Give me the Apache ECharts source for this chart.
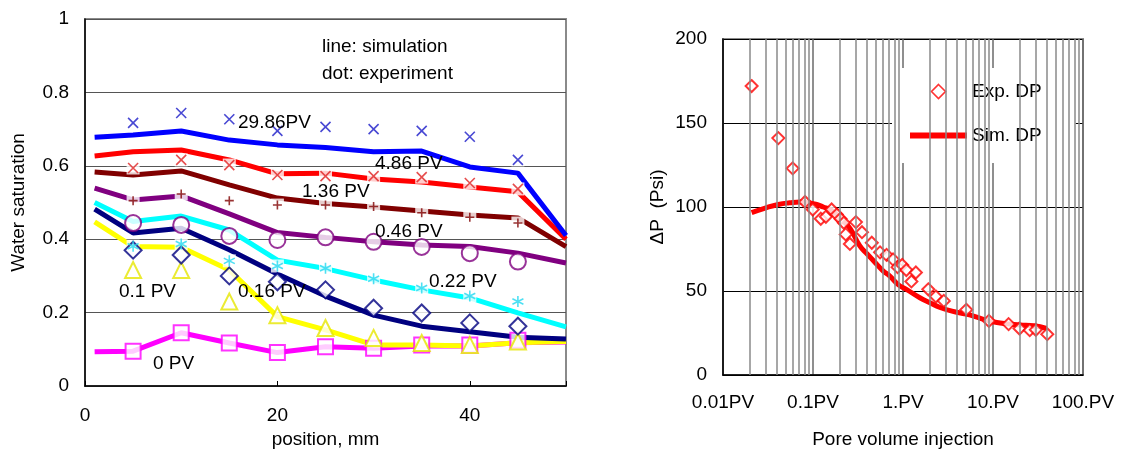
<!DOCTYPE html>
<html>
<head>
<meta charset="utf-8">
<script src="https://cdn.jsdelivr.net/npm/echarts@6.0.0/dist/echarts.min.js"></script>
<style>
  html, body { margin: 0; padding: 0; background: #fff; }
  #chart { width: 1122px; height: 454px; }
</style>
</head>
<body>
<div id="chart"></div>
<script>
// ---- left panel: water saturation profiles (line = simulation, dot = experiment) ----
const simPos = [1, 5, 10, 15, 20, 25, 30, 35, 40, 45, 50]
const expPos = [5, 10, 15, 20, 25, 30, 35, 40, 45]
const posTicks = [0, 20, 40]

const sim2986 = [0.678, 0.684, 0.695, 0.670, 0.657, 0.650, 0.638, 0.640, 0.597, 0.580, 0.410]
const exp2986 = [0.717, 0.744, 0.727, 0.695, 0.706, 0.700, 0.695, 0.679, 0.616]
const sim486 = [0.627, 0.638, 0.643, 0.616, 0.578, 0.580, 0.564, 0.556, 0.542, 0.529, 0.400]
const exp486 = [0.594, 0.616, 0.602, 0.575, 0.572, 0.572, 0.569, 0.553, 0.537]
const sim136 = [0.583, 0.575, 0.586, 0.548, 0.512, 0.497, 0.488, 0.477, 0.466, 0.458, 0.380]
const exp136 = [0.505, 0.523, 0.505, 0.493, 0.493, 0.489, 0.472, 0.460, 0.444]
const sim046 = [0.539, 0.507, 0.518, 0.469, 0.418, 0.405, 0.393, 0.384, 0.380, 0.362, 0.335]
const exp046 = [0.444, 0.439, 0.409, 0.398, 0.405, 0.393, 0.379, 0.362, 0.339]
const sim022 = [0.500, 0.448, 0.463, 0.425, 0.343, 0.320, 0.289, 0.262, 0.240, 0.199, 0.161]
const exp022 = [0.381, 0.387, 0.341, 0.327, 0.321, 0.292, 0.267, 0.245, 0.230]
const sim016 = [0.482, 0.417, 0.430, 0.371, 0.305, 0.245, 0.193, 0.163, 0.148, 0.133, 0.128]
const exp016 = [0.370, 0.357, 0.300, 0.284, 0.262, 0.212, 0.199, 0.172, 0.163]
const sim010 = [0.447, 0.380, 0.378, 0.316, 0.189, 0.153, 0.112, 0.112, 0.109, 0.118, 0.121]
const exp010 = [0.316, 0.316, 0.230, 0.193, 0.158, 0.131, 0.117, 0.112, 0.121]
const sim000 = [0.093, 0.095, 0.145, 0.117, 0.091, 0.107, 0.103, 0.109, 0.109, 0.118, 0.120]
const exp000 = [0.095, 0.145, 0.117, 0.091, 0.107, 0.103, 0.112, 0.112, 0.125]

// ---- right panel: pressure drop vs injected pore volumes ----
const pvTicks = [0.01, 0.1, 1, 10, 100]
const pvTickLabels = ['0.01PV', '0.1PV', '1.PV', '10.PV', '100.PV']
const expDpPV = [0.0208, 0.0412, 0.0595, 0.0815, 0.0994, 0.122, 0.139, 0.161, 0.184, 0.202, 0.22, 0.231, 0.257, 0.30, 0.35, 0.45, 0.556, 0.657, 0.775, 0.87, 0.98, 1.09, 1.24, 1.39, 1.91, 2.32, 2.84, 5.05, 9.0, 14.9, 19.7, 25.6, 29.9, 40.1]
const expDp = [172, 141, 123, 103, 98.5, 93, 94.2, 98.5, 95.5, 93, 90.6, 83.7, 78, 91, 85, 78.7, 73, 71.5, 68.8, 64.2, 65.5, 62.5, 55.7, 61, 51, 46.7, 44.1, 38.8, 32.2, 30.3, 27.7, 26.7, 26.9, 24.3]
const simDpPV = [0.0208, 0.03, 0.0412, 0.055, 0.072, 0.09, 0.11, 0.13, 0.154, 0.18, 0.217, 0.26, 0.33, 0.4, 0.47, 0.6, 0.71, 0.9, 1.09, 1.54, 2.0, 2.58, 3.5, 5.05, 7, 9, 12, 15.4, 20, 28.4, 39.3]
const simDp = [96.6, 99.5, 101.5, 102.5, 103, 102.5, 101.5, 100, 98.5, 96, 91.6, 87, 77, 72, 68, 62, 59, 53.5, 51, 46, 43, 40.2, 38, 36.2, 34, 32.2, 31, 30.3, 29.8, 29.3, 27.7]

const FONT = "'Liberation Sans', Arial, sans-serif"
const crossPath = 'path://M0 0L10 10M10 0L0 10'
const plusPath = 'path://M5 0L5 10M0 5L10 5'
const starPath = 'path://M5 0L5 10M0.7 2.5L9.3 7.5M0.7 7.5L9.3 2.5'

const profiles = [
  { sim: sim000, exp: exp000, line: '#ff00ff', mark: '#ff00ff', symbol: 'emptyRect', size: 15 },
  { sim: sim010, exp: exp010, line: '#ffff00', mark: '#e6e600', symbol: 'emptyTriangle', size: 16 },
  { sim: sim016, exp: exp016, line: '#000080', mark: '#000080', symbol: 'emptyDiamond', size: 17 },
  { sim: sim022, exp: exp022, line: '#00ffff', mark: '#22d8f0', symbol: starPath, size: 11, halo: true },
  { sim: sim046, exp: exp046, line: '#800080', mark: '#800080', symbol: 'emptyCircle', size: 16 },
  { sim: sim136, exp: exp136, line: '#800000', mark: '#800000', symbol: plusPath, size: 9, halo: true },
  { sim: sim486, exp: exp486, line: '#ff0000', mark: '#e02020', symbol: crossPath, size: 10, halo: true },
  { sim: sim2986, exp: exp2986, line: '#0000ff', mark: '#1a1ac8', symbol: crossPath, size: 10, halo: true },
]

const zip = (xs, ys) => xs.map((x, i) => [x, ys[i]])

const series = []
// simulation lines
profiles.forEach(p => {
  series.push({
    type: 'line', xAxisIndex: 0, yAxisIndex: 0, z: 2,
    data: zip(simPos, p.sim),
    symbol: 'none', silent: true,
    lineStyle: { color: p.line, width: 5 },
  })
})
// white boxes behind the thin experimental markers (they cut the lines, as in the original)
profiles.filter(p => p.halo).forEach(p => {
  series.push({
    type: 'scatter', xAxisIndex: 0, yAxisIndex: 0, z: 3,
    data: zip(expPos, p.exp),
    symbol: 'rect', symbolSize: 13, silent: true,
    itemStyle: { color: '#fff' },
  })
})
// experimental points
profiles.forEach(p => {
  const isPath = p.symbol.startsWith('path://')
  series.push({
    type: 'scatter', xAxisIndex: 0, yAxisIndex: 0, z: 4,
    data: zip(expPos, p.exp),
    symbol: p.symbol, symbolSize: p.size, silent: true,
    itemStyle: isPath
      ? { color: 'rgba(0,0,0,0)', borderColor: p.mark, borderWidth: 1.6 }
      : { color: p.mark, borderColor: p.mark, borderWidth: 1.5 },
  })
})

// minor log gridlines for the right panel (2..9 in every decade)
const minorPV = []
for (let d = 0; d < pvTicks.length - 1; d++) {
  for (let k = 2; k <= 9; k++) minorPV.push(+(pvTicks[d] * k).toPrecision(3))
}
series.push({
  type: 'line', xAxisIndex: 1, yAxisIndex: 1, data: [], silent: true, z: 1,
  markLine: {
    silent: true, symbol: 'none', label: { show: false },
    lineStyle: { color: '#8a8a8a', width: 1.5, type: 'solid' },
    data: minorPV.map(v => ({ xAxis: v })),
  },
})
series.push({
  name: 'Sim. DP', type: 'line', xAxisIndex: 1, yAxisIndex: 1, z: 2,
  data: zip(simDpPV, simDp), smooth: true, symbol: 'none', silent: true,
  lineStyle: { color: '#ff0000', width: 5 },
  itemStyle: { color: '#ff0000' },
})
series.push({
  name: 'Exp. DP', type: 'scatter', xAxisIndex: 1, yAxisIndex: 1, z: 3,
  data: zip(expDpPV, expDp), symbol: 'emptyDiamond', symbolSize: 12, silent: true,
  itemStyle: { color: '#ff0000', borderColor: '#ff0000', borderWidth: 1.6 },
})

// text written inside the left plot
const notes = [
  ['line: simulation', 322, 47],
  ['dot: experiment', 322, 74],
  ['29.86PV', 238, 123],
  ['4.86 PV', 375, 164],
  ['1.36 PV', 302, 192],
  ['0.46 PV', 375, 232],
  ['0.22 PV', 429, 282],
  ['0.16 PV', 238, 292],
  ['0.1 PV', 119, 292],
  ['0 PV', 153, 364],
]

const labelStyle = { color: '#000', fontSize: 19, fontFamily: FONT }
const nameStyle = { color: '#000', fontSize: 19, fontFamily: FONT }

const option = {
  animation: false,
  backgroundColor: '#fff',
  grid: [
    { left: 85, top: 19, width: 481, height: 367, show: true, borderColor: '#8a8a8a', borderWidth: 2 },
    { left: 723, top: 39, width: 360, height: 337, show: true, borderColor: '#8a8a8a', borderWidth: 2 },
  ],
  legend: {
    data: [
      {
        name: 'Exp. DP',
        icon: 'path://M6 0L12 6L6 12L0 6Z',
        itemStyle: { color: '#fff', borderColor: '#ff0000', borderWidth: 1.6 },
      },
      {
        name: 'Sim. DP',
        icon: 'path://M0 0L57 0L57 6L0 6Z',
        itemStyle: { color: '#ff0000', borderWidth: 0 },
      },
    ],
    symbolKeepAspect: true,
    orient: 'vertical', left: 892, top: 68,
    backgroundColor: '#fff',
    padding: [14, 34, 18, 18],
    itemWidth: 57, itemHeight: 14, itemGap: 25,
    selectedMode: false,
    textStyle: { color: '#000', fontSize: 19, fontFamily: FONT },
  },
  xAxis: [
    {
      gridIndex: 0, type: 'value', min: 0, max: 50, interval: 20,
      name: 'position, mm', nameLocation: 'middle', nameGap: 42, nameTextStyle: nameStyle,
      axisLine: { lineStyle: { color: '#000', width: 1.5 } },
      axisTick: { show: true, inside: true, length: 5, lineStyle: { color: '#000' } },
      axisLabel: { ...labelStyle, margin: 20, formatter: v => (posTicks.includes(v) ? String(v) : '') },
      splitLine: { show: false },
    },
    {
      gridIndex: 1, type: 'log', logBase: 10, min: 0.01, max: 100,
      name: 'Pore volume injection', nameLocation: 'middle', nameGap: 55, nameTextStyle: nameStyle,
      axisLine: { lineStyle: { color: '#000', width: 1.5 } },
      axisTick: { show: false },
      axisLabel: {
        ...labelStyle, margin: 18,
        formatter: v => {
          const i = pvTicks.findIndex(t => Math.abs(Math.log10(t) - Math.log10(v)) < 1e-6)
          return i >= 0 ? pvTickLabels[i] : ''
        },
      },
      splitLine: { show: true, lineStyle: { color: '#6a6a6a', width: 1.5 } },
    },
  ],
  yAxis: [
    {
      gridIndex: 0, type: 'value', min: 0, max: 1, interval: 0.2,
      name: 'Water saturation', nameLocation: 'middle', nameGap: 57, nameTextStyle: nameStyle,
      axisLine: { show: true, lineStyle: { color: '#000', width: 1.5 } },
      axisTick: { show: false },
      axisLabel: { ...labelStyle, margin: 16 },
      splitLine: { show: true, lineStyle: { color: '#555', width: 1 } },
    },
    {
      gridIndex: 1, type: 'value', min: 0, max: 200, interval: 50,
      name: 'ΔP  (Psi)', nameLocation: 'middle', nameGap: 56, nameTextStyle: nameStyle,
      axisLine: { show: true, lineStyle: { color: '#000', width: 1.5 } },
      axisTick: { show: false },
      axisLabel: { ...labelStyle, margin: 16 },
      splitLine: { show: true, lineStyle: { color: '#000', width: 1 } },
    },
  ],
  graphic: notes.map(([text, x, y]) => ({
    type: 'text', x, y, silent: true, z: 10,
    style: { text, font: `19px ${FONT}`, fill: '#000', verticalAlign: 'middle', align: 'left' },
  })),
  series,
}

const chart = echarts.init(document.getElementById('chart'))
chart.setOption(option)
</script>
</body>
</html>
